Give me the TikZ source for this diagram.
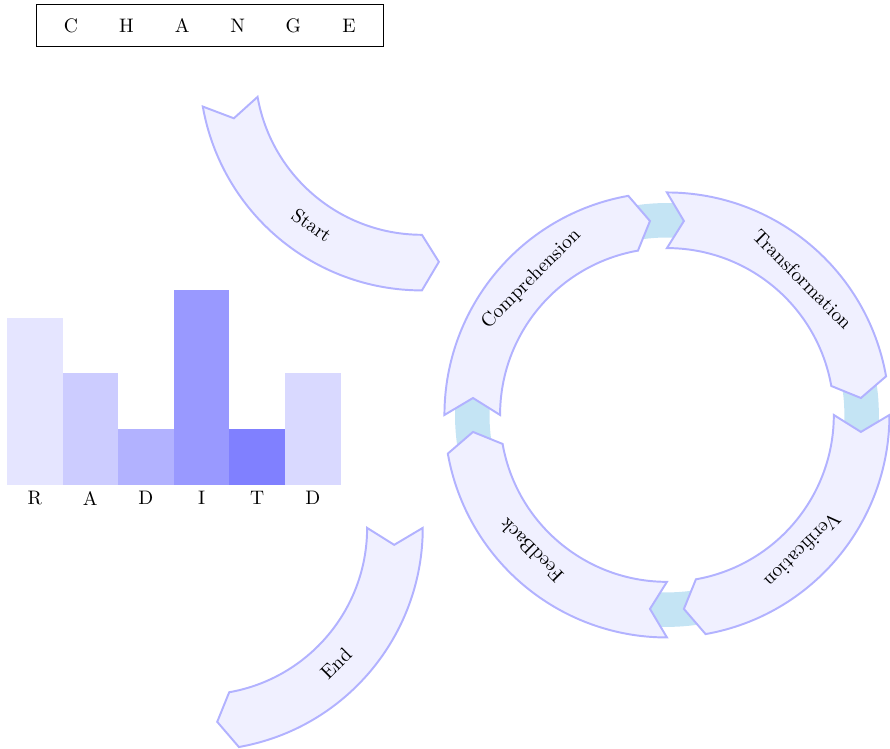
\documentclass[tikz,border=0pt]{standalone}
\usepackage{xcolor}
\usetikzlibrary{calc}
\definecolor{ringblue}{RGB}{196,228,244}
\tikzset{
  band/.style={
    draw=blue!30,
    fill=blue!6,
    line width=1pt,
    line join=miter
  },
  bandlabel/.style={
    inner sep=1pt
  },
  letterbox/.style={
    draw,
    minimum height=0.75cm,
    inner sep=0.333em
  },
  barlabel/.style={
    anchor=north
  },
  ring/.style={draw=ringblue, line width=0.62cm}
}

\begin{document}
\begin{tikzpicture}
  \useasboundingbox (-11.99,-5.99) rectangle (4.01,7.46);

  \coordinate (cyc) at (0,0);
  \coordinate (startc) at (-4.405,6.239);
  \coordinate (endc) at (-8.39,-2.03);

  % title box
  \node[letterbox] (change) at (-8.215,7.0)
    {\makebox[1cm]{C}\makebox[1cm]{H}\makebox[1cm]{A}\makebox[1cm]{N}\makebox[1cm]{G}\makebox[1cm]{E}};

  % bars
  \foreach \i/\h/\c/\l in {0/3/blue!10/R, 1/2/blue!20/A, 2/1/blue!30/D, 3/3.5/blue!40/I, 4/1/blue!50/T, 5/2/blue!15/D} {
    \fill[\c] (-11.866+\i,-1.253) rectangle ++(1,\h);
    \node[barlabel] (bar\i) at (-11.366+\i,-1.253) {\l};
  }

  % cycle
  \draw[ring] (cyc) circle[radius=3.5];
  \begin{scope}[shift={(cyc)}]
    \foreach \a/\nm/\txt in {180/compr/Comprehension, 90/transf/Transformation, 0/verif/Verification, -90/feedb/FeedBack} {
      \draw[band] (\a:4) arc[start angle=\a, end angle=\a-80, radius=4]
        -- ({\a-85}:3.5) -- ({\a-80}:3) arc[start angle=\a-80, end angle=\a, radius=3]
        -- ({\a-5}:3.5) -- cycle;
      \node[bandlabel, rotate=\a-135] (\nm) at ({\a-45}:3.45) {\txt};
    }
  \end{scope}

  % start arrow
  \begin{scope}[shift={(startc)}]
    \draw[band] (190:4) arc[start angle=190, end angle=270, radius=4]
      -- (275:3.5) -- (270:3) arc[start angle=270, end angle=190, radius=3]
      -- (195:3.5) -- cycle;
    \node[bandlabel, rotate=-35] (start) at (235:3.45) {Start};
  \end{scope}

  % end arrow
  \begin{scope}[shift={(endc)}]
    \draw[band] (0:4) arc[start angle=0, end angle=-80, radius=4]
      -- (-85:3.5) -- (-80:3) arc[start angle=-80, end angle=0, radius=3]
      -- (-5:3.5) -- cycle;
    \node[bandlabel, rotate=45] (end) at (-45:3.45) {End};
  \end{scope}
\end{tikzpicture}
\end{document}
